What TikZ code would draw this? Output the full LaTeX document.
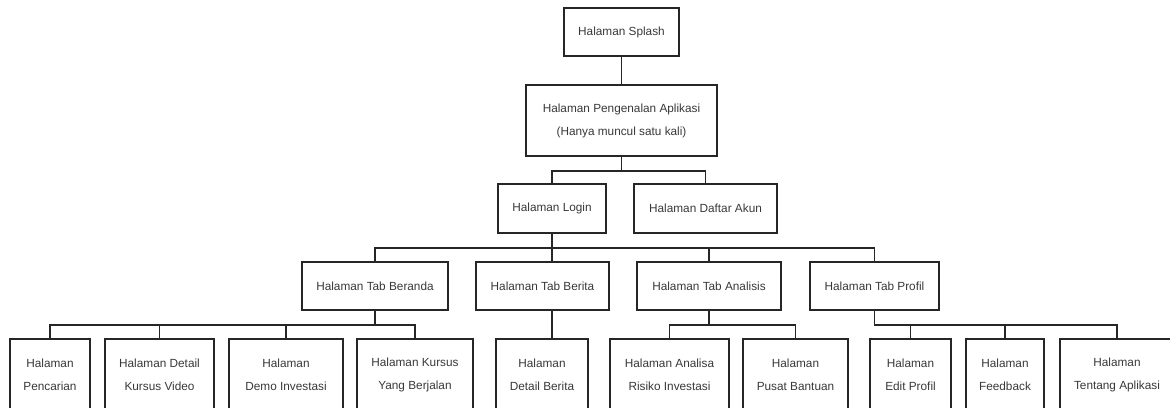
\documentclass[tikz,border=0pt]{standalone}
\usepackage{fontspec}
\setmainfont{Liberation Sans}
\usetikzlibrary{calc}

\begin{document}
\begin{tikzpicture} [
                x=1pt, y=-1pt,
                % every screen of the app is a plain box
                page/.style = {draw=black!85, line width=1.6pt, align=center,
                               inner sep=0pt, text=black!78,
                               font=\fontsize{11.8}{23}\selectfont},
                link/.style = {draw=black!85, line width=1.6pt, -}
            ]
            \useasboundingbox (0,0) rectangle (1170,407);
            \clip (0,0) rectangle (1170,407);
            % First we draw the pages (name/x/y/width/height/text)
            \foreach \name/\cx/\cy/\w/\h/\txt in {
                splash/621.5/32/115/48/{Halaman Splash},
                intro/621.5/120.5/191/71/{Halaman Pengenalan Aplikasi\\(Hanya muncul satu kali)},
                login/552/208.5/108/49/{Halaman Login},
                daftar/705.5/208.5/143/49/{Halaman Daftar Akun},
                beranda/375/286/146/48/{Halaman Tab Beranda},
                berita/542.5/286/133/48/{Halaman Tab Berita},
                analisis/709/286/144/48/{Halaman Tab Analisis},
                profil/874.5/286/129/48/{Halaman Tab Profil},
                pencarian/50/374.5/80/71/{Halaman\\Pencarian},
                dkursus/159.5/374.5/109/71/{Halaman Detail\\Kursus Video},
                demo/286/374.5/114/71/{Halaman\\Demo Investasi},
                berjalan/415/374.5/116/71/{Halaman Kursus\\Yang Berjalan},
                dberita/542/374.5/92/71/{Halaman\\Detail Berita},
                risiko/669.5/374.5/119/71/{Halaman Analisa\\Risiko Investasi},
                bantuan/795.5/374.5/105/71/{Halaman\\Pusat Bantuan},
                editprofil/910.5/374.5/81/71/{Halaman\\Edit Profil},
                feedback/1005/374.5/78/71/{Halaman\\Feedback},
                tentang/1117/374.5/114/71/{Halaman\\Tentang Aplikasi}}
                \node[page, minimum width=\w pt, minimum height=\h pt] (\name) at (\cx,\cy) {\txt};
            % Connect parents with their children through a bus line
            \foreach \source/\dest in {splash/intro, intro/login, intro/daftar,
                                       login/beranda, login/analisis, login/profil,
                                       beranda/pencarian, beranda/dkursus, beranda/demo, beranda/berjalan,
                                       analisis/risiko, analisis/bantuan,
                                       profil/editprofil, profil/feedback, profil/tentang}
                \path[link] (\source.south) -- ++(0,-14pt) -| (\dest.north);
            % the news tab hangs straight below the login page
            \path[link] (login.south) -- (login.south |- berita.north);
            \path[link] (berita.south -| login.south) -- (login.south |- dberita.north);
        \end{tikzpicture}
\end{document}
